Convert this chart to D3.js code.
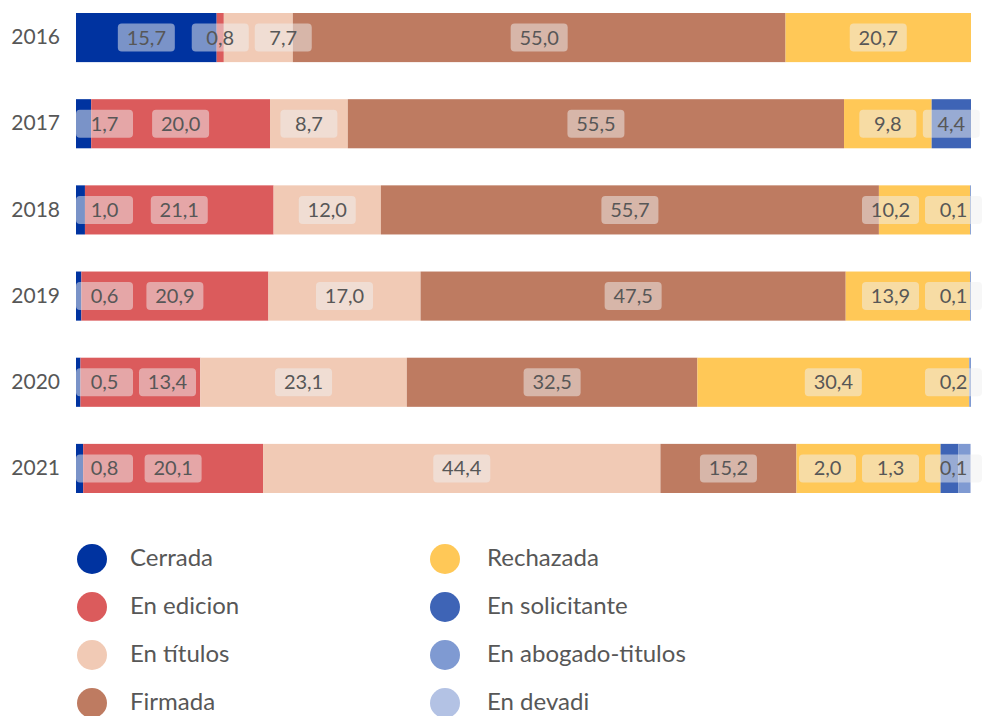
<!DOCTYPE html>
<html>
<head>
<meta charset="utf-8">
<script src="https://cdn.jsdelivr.net/npm/d3@7/dist/d3.min.js"></script>
<style>
  html, body { margin: 0; padding: 0; background: #fff; }
  svg { display: block; font-family: Lato, "Open Sans", sans-serif; font-weight: 400; }
</style>
</head>
<body>
<svg id="chart" width="1003" height="716"></svg>
<script>
// Share of cases by status, per year (percent)
const years = ["2016", "2017", "2018", "2019", "2020", "2021"];
const categories = ["Cerrada", "En edicion", "En títulos", "Firmada", "Rechazada",
                    "En solicitante", "En abogado-titulos", "En devadi"];
const colors = ["#0033a0", "#db5b5c", "#f1cab5", "#be7b61", "#ffc857",
                "#3e64b6", "#7f9ad2", "#b3c2e4"];

const cerrada       = [15.7, 1.7, 1.0, 0.6, 0.5, 0.8];
const enEdicion     = [0.8, 20.0, 21.1, 20.9, 13.4, 20.1];
const enTitulos     = [7.7, 8.7, 12.0, 17.0, 23.1, 44.4];
const firmada       = [55.0, 55.5, 55.7, 47.5, 32.5, 15.2];
const rechazada     = [20.7, 9.8, 10.2, 13.9, 30.4, 16.1];
const enSolicitante = [0, 4.4, 0, 0, 0, 2.0];
const enAbogado     = [0, 0, 0.1, 0.1, 0.2, 1.3];
const enDevadi      = [0, 0, 0, 0, 0, 0.1];

const seriesValues = [cerrada, enEdicion, enTitulos, firmada, rechazada,
                      enSolicitante, enAbogado, enDevadi];

const rows = years.map((year, i) => {
  const r = { year };
  categories.forEach((c, k) => { r[c] = seriesValues[k][i]; });
  return r;
});

const svg = d3.select("#chart");
const textColor = "#575757";

const x = d3.scaleLinear().domain([0, 1]).range([76, 971]);
const y = d3.scaleBand().domain(years).range([13, 493]).paddingInner(0.43).paddingOuter(0);
const color = d3.scaleOrdinal().domain(categories).range(colors);

const stacked = d3.stack().keys(categories).offset(d3.stackOffsetExpand)(rows);

// Bars
const layers = svg.append("g").selectAll("g")
  .data(stacked).join("g")
  .attr("fill", d => color(d.key));

layers.selectAll("rect")
  .data(d => d.map(p => ({ key: d.key, p })))
  .join("rect")
  .attr("x", d => x(d.p[0]))
  .attr("y", d => y(d.p.data.year))
  .attr("width", d => Math.max(0, x(d.p[1]) - x(d.p[0])))
  .attr("height", y.bandwidth());

// Year axis labels
const yAxis = svg.append("g")
  .attr("transform", "translate(60,0)")
  .call(d3.axisLeft(y).tickSize(0).tickPadding(0));
yAxis.select(".domain").remove();
yAxis.selectAll("text")
  .attr("fill", textColor)
  .style("font-family", "Lato, 'Open Sans', sans-serif")
  .style("font-size", "21px");

// Value labels: centred in their segment, pushed apart where they collide
const fmt = d3.formatLocale({ decimal: ",", thousands: ".", grouping: [3], currency: ["", ""] }).format(".1f");
const boxW = 57, boxH = 28, spacing = 63;
const xMin = x.range()[0], xMax = x.range()[1] + 11;

function layoutRow(items) {
  let active = items.slice();
  for (let pass = 0; pass < items.length; pass++) {
    active.forEach(d => { d.x = Math.min(xMax - boxW / 2, Math.max(xMin + boxW / 2, d.c)); });
    for (let i = 1; i < active.length; i++) {
      active[i].x = Math.max(active[i].x, active[i - 1].x + spacing);
    }
    for (let i = active.length - 1; i >= 0; i--) {
      const lim = i === active.length - 1 ? xMax - boxW / 2 : active[i + 1].x - spacing;
      active[i].x = Math.min(active[i].x, lim);
    }
    // a wide segment must keep its label centre inside it
    let worst = null, worstOff = 0;
    active.forEach(d => {
      if (d.s1 - d.s0 <= boxW) return;
      const off = d.x < d.s0 ? d.s0 - d.x : (d.x > d.s1 ? d.x - d.s1 : 0);
      if (off > worstOff) { worstOff = off; worst = d; }
    });
    if (!worst) break;
    active = active.filter(d => d !== worst);
  }
  return active;
}

const labelData = [];
years.forEach((year, i) => {
  const items = [];
  stacked.forEach(layer => {
    const p = layer[i];
    const v = p.data[layer.key];
    if (v > 0) {
      const s0 = x(p[0]), s1 = x(p[1]);
      items.push({ year, key: layer.key, value: v, s0, s1, c: (s0 + s1) / 2 });
    }
  });
  layoutRow(items).forEach(d => labelData.push(d));
});

const labels = svg.append("g").selectAll("g")
  .data(labelData).join("g")
  .attr("transform", d => `translate(${d.x},${y(d.year) + y.bandwidth() / 2})`);

labels.append("rect")
  .attr("x", -boxW / 2).attr("y", -boxH / 2)
  .attr("width", boxW).attr("height", boxH)
  .attr("rx", 4)
  .attr("fill", "rgb(239,239,239)")
  .attr("fill-opacity", 0.51);

labels.append("text")
  .attr("text-anchor", "middle")
  .attr("dy", "0.35em")
  .attr("fill", textColor)
  .style("font-size", "20px")
  .text(d => fmt(d.value));

// Legend, two columns of four
const legendCol = d3.scaleOrdinal().domain([0, 1]).range([92, 445]);
const legendRow = d3.scalePoint().domain([0, 1, 2, 3]).range([559, 703]);

const legend = svg.append("g").selectAll("g")
  .data(categories).join("g")
  .attr("transform", (d, i) => `translate(${legendCol(Math.floor(i / 4))},${legendRow(i % 4)})`);

legend.append("circle")
  .attr("r", 15)
  .attr("fill", d => color(d));

legend.append("text")
  .attr("x", (d, i) => Math.floor(i / 4) === 0 ? 38 : 42)
  .attr("dy", "0.3em")
  .attr("fill", textColor)
  .style("font-size", "24px")
  .text(d => d);
</script>
</body>
</html>
